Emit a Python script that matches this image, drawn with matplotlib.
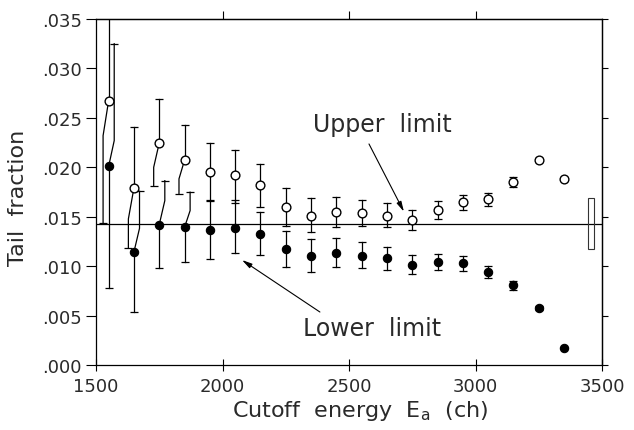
import matplotlib
matplotlib.use('Agg')
import matplotlib.pyplot as plt
from matplotlib.patches import Rectangle

# ---------------- data ----------------
energy = [1550, 1650, 1750, 1850, 1950, 2050, 2150, 2250, 2350, 2450,
          2550, 2650, 2750, 2850, 2950, 3050, 3150, 3250, 3350]

upper = [0.02675, 0.01792, 0.02247, 0.02072, 0.0195, 0.01926, 0.01822, 0.01602,
         0.01511, 0.01545, 0.01535, 0.01511, 0.01471, 0.01569, 0.0165, 0.0168,
         0.01855, 0.02072, 0.01883]
upper_hi = [0.0365, 0.02412, 0.02692, 0.02432, 0.02247, 0.02176, 0.02034, 0.01791,
            0.01687, 0.01697, 0.0167, 0.01636, 0.01572, 0.01657, 0.01724, 0.01741,
            0.0190, 0.02092, 0.01883]
upper_lo = [0.0144, 0.0118, 0.01815, 0.01731, 0.0166, 0.01636, 0.01602, 0.01404,
            0.01349, 0.0140, 0.01404, 0.01394, 0.01366, 0.01478, 0.01569, 0.01612,
            0.01799, 0.02052, 0.01883]

lower = [0.0201, 0.01144, 0.0142, 0.01393, 0.01366, 0.01387, 0.01326, 0.01174,
         0.01106, 0.0113, 0.01106, 0.0108, 0.01015, 0.01046, 0.01029, 0.00938,
         0.00813, 0.0058, 0.00172]
lower_hi = [0.0325, 0.01758, 0.01865, 0.01748, 0.0167, 0.01673, 0.01545, 0.01359,
            0.01275, 0.01282, 0.01242, 0.01191, 0.01113, 0.01123, 0.0110, 0.01005,
            0.00853, 0.0060, 0.00172]
lower_lo = [0.0078, 0.00533, 0.00982, 0.01046, 0.01073, 0.01134, 0.01113, 0.00995,
            0.00944, 0.00989, 0.00979, 0.00965, 0.00921, 0.00962, 0.00955, 0.00877,
            0.00762, 0.0056, 0.00172]

# bent error bars of the first four points (value where the bar bends)
upper_bend = [0.0232, 0.01478, 0.0200, 0.01883]
lower_bend = [0.0227, 0.01383, 0.01663, 0.01562]

reference_level = 0.0143
band_energy = [3446, 3468]
band_fraction = [0.0117, 0.0169]

x_ticks = [1500, 2000, 2500, 3000, 3500]
top_ticks = [2000, 2500, 3000]
y_ticks = [0.000, 0.005, 0.010, 0.015, 0.020, 0.025, 0.030, 0.035]
y_tick_labels = ['.000', '.005', '.010', '.015', '.020', '.025', '.030', '.035']

# ---------------- style ----------------
plt.rcParams['font.family'] = ['DejaVu Sans']
LW = 0.9
CAP = 3.0      # half cap width in points
BEND_DX = 22   # horizontal shift of bent bars (ch)
TXT = '#2a2a2a'

fig = plt.figure(figsize=(6.34, 4.31), dpi=100)
ax = fig.add_axes([96 / 634, 65 / 431, 506 / 634, 346 / 431])

ax.set_xlim(1500, 3500)
ax.set_ylim(0.0, 0.035)

# reference line
ax.axhline(reference_level, color='black', lw=LW, zorder=1)

# band rectangle
ax.add_patch(Rectangle((band_energy[0], band_fraction[0]),
                       band_energy[1] - band_energy[0],
                       band_fraction[1] - band_fraction[0],
                       fill=False, edgecolor='#333333', lw=0.8, zorder=2))


def cap(x, y):
    ax.plot([x], [y], marker='_', ms=2 * CAP, mew=LW, color='black', zorder=2)


nb = len(upper_bend)
for i, x in enumerate(energy):
    o, ohi, olo = upper[i], upper_hi[i], upper_lo[i]
    f, fhi, flo = lower[i], lower_hi[i], lower_lo[i]
    ax.plot([x, x], [o, ohi], color='black', lw=LW, zorder=2)
    if ohi < 0.035:
        cap(x, ohi)
    ax.plot([x, x], [f, flo], color='black', lw=LW, zorder=2)
    cap(x, flo)
    if i < nb:
        xb_o = x - BEND_DX
        xb_f = x + BEND_DX
        ax.plot([x, xb_o, xb_o], [o, upper_bend[i], olo], color='black', lw=LW, zorder=2)
        cap(xb_o, olo)
        ax.plot([x, xb_f, xb_f], [f, lower_bend[i], fhi], color='black', lw=LW, zorder=2)
        cap(xb_f, fhi)
    else:
        ax.plot([x, x], [o, olo], color='black', lw=LW, zorder=2)
        cap(x, olo)
        ax.plot([x, x], [f, fhi], color='black', lw=LW, zorder=2)
        cap(x, fhi)

ax.plot(energy, upper, 'o', ms=6.3, mfc='white', mec='black', mew=1.0, zorder=4,
        linestyle='none')
ax.plot(energy, lower, 'o', ms=6.0, mfc='black', mec='black', mew=0.8, zorder=4,
        linestyle='none')

# annotations
ax.text(2358, 0.02367, 'Upper  limit', fontsize=17, color=TXT, ha='left', va='baseline')
ax.annotate('', xy=(2717, 0.01551), xytext=(2579, 0.02236),
            arrowprops=dict(arrowstyle='-|>,head_length=0.6,head_width=0.15',
                            color='black', lw=0.8, shrinkA=0, shrinkB=0))
ax.text(2318, 0.00303, 'Lower  limit', fontsize=17, color=TXT, ha='left', va='baseline')
ax.annotate('', xy=(2077, 0.01062), xytext=(2385, 0.00536),
            arrowprops=dict(arrowstyle='-|>,head_length=0.6,head_width=0.15',
                            color='black', lw=0.8, shrinkA=0, shrinkB=0))

# axes / ticks
for s in ax.spines.values():
    s.set_linewidth(0.9)
ax.set_xticks(x_ticks)
ax.set_xticklabels([str(t) for t in x_ticks])
ax.set_yticks(y_ticks)
ax.set_yticklabels(y_tick_labels)
ax.tick_params(axis='x', which='major', direction='inout', length=9, width=0.8,
               labelsize=13, pad=4, top=False, labelcolor=TXT)
ax.tick_params(axis='y', which='major', direction='out', length=7, width=0.8,
               labelsize=13, pad=3, right=False, labelcolor=TXT)

top = ax.secondary_xaxis('top')
top.set_xticks(top_ticks)
top.tick_params(direction='out', length=6, width=0.8, labeltop=False)
top.spines['top'].set_linewidth(0.9)
right = ax.secondary_yaxis('right')
right.set_yticks(y_ticks)
right.tick_params(direction='out', length=4, width=0.8, labelright=False)
right.spines['right'].set_linewidth(0.9)

ax.set_xlabel(r'Cutoff  energy  E$_{\mathregular{a}}$  (ch)', fontsize=16, color=TXT)
ax.xaxis.set_label_coords(0.522, -0.095)
ax.set_ylabel('Tail  fraction', fontsize=16, color=TXT)
ax.yaxis.set_label_coords(-0.135, 0.486)

fig.savefig('out.png', dpi=100)
